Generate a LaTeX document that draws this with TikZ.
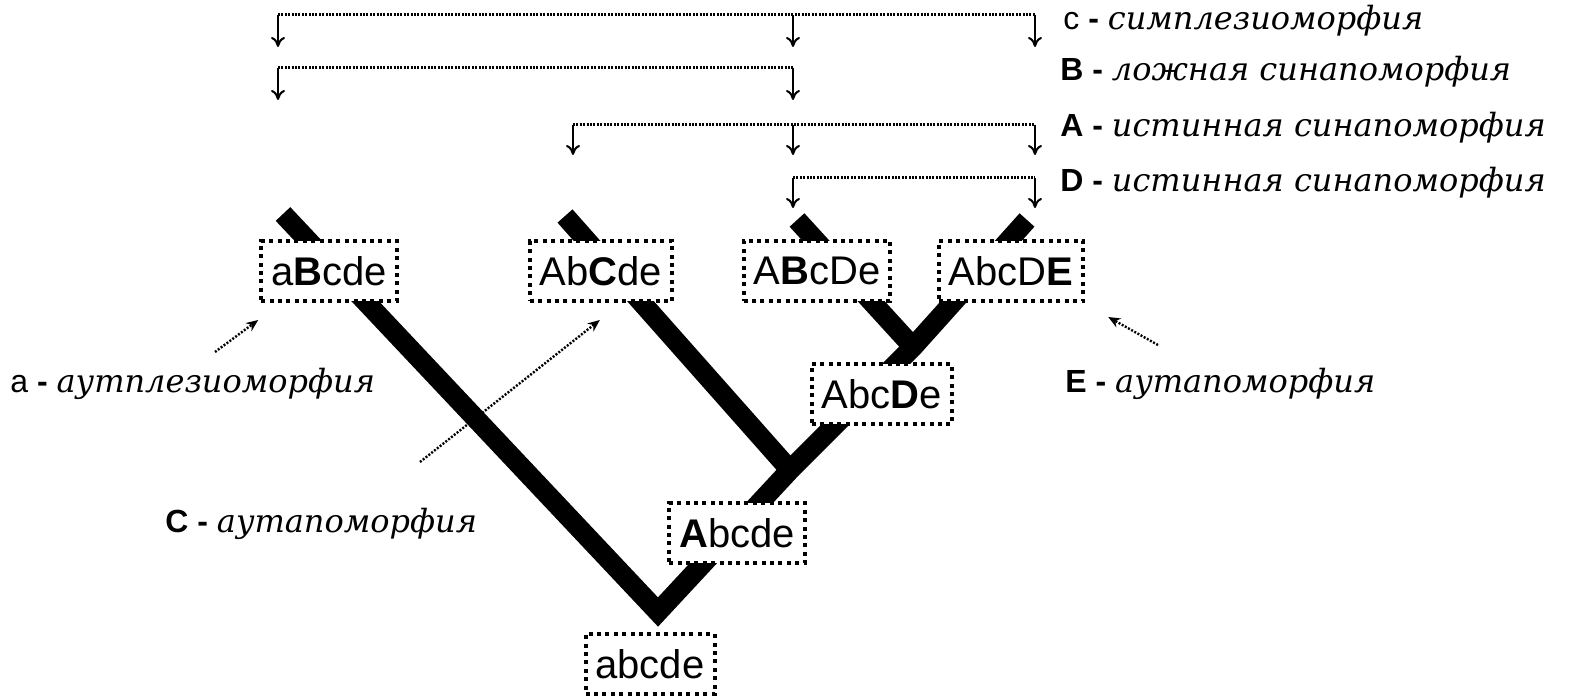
\documentclass[tikz,border=0pt]{standalone}
\usepackage{fontspec}
\setmainfont{Liberation Sans}
\newfontfamily\descfont{DejaVu Serif}
\usetikzlibrary{arrows.meta}

\tikzset{
  taxon/.style={draw=black, fill=white, line width=2pt, dash pattern=on 2pt off 2.2pt,
    inner xsep=5pt, inner ysep=0pt, minimum height=30pt, font=\fontsize{20}{24}\selectfont},
  branch/.style={line width=10pt, line cap=butt, line join=miter},
  bracket/.style={line width=1.5pt, dash pattern=on 1pt off 0.7pt},
  drop/.style={line width=1pt, -{To[length=5pt,width=7pt]}},
  pointer/.style={line width=1.2pt, dash pattern=on 1pt off 0.8pt, -{Stealth[open,length=6pt,width=5pt]}},
  legend/.style={anchor=base west, inner sep=0pt, font=\fontsize{16}{18}\selectfont},
}
\newcommand{\desc}[1]{{\descfont\itshape\fontsize{16}{18}\selectfont #1}}

\begin{document}
\begin{tikzpicture}[x=0.5pt, y=-0.5pt]
  \useasboundingbox (0,0) rectangle (1569,700);

  % tree
  \coordinate (root) at (658,612);
  \coordinate (j1) at (790,470);
  \coordinate (j2) at (913,347);
  \coordinate (t1) at (283,214);
  \coordinate (t2) at (565,216);
  \coordinate (t3) at (797,220);
  \coordinate (t4) at (1027,220);
  \draw[branch] (t1) -- (root) -- (j1) -- (j2) -- (t4);
  \draw[branch] (t2) -- (j1);
  \draw[branch] (t3) -- (j2);

  \node[taxon] (aBcde) at (329,271) {a\textbf{B}cde};
  \node[taxon] (AbCde) at (601,271) {Ab\textbf{C}de};
  \node[taxon] (ABcDe) at (817,271) {A\textbf{B}cDe};
  \node[taxon] (AbcDE) at (1011,271) {AbcD\textbf{E}};
  \node[taxon] (AbcDe) at (882,394) {Abc\textbf{D}e};
  \node[taxon] (Abcde) at (737,533) {\textbf{A}bcde};
  \node[taxon] (abcde) at (650,664) {abcde};

  % character brackets
  \coordinate (c1) at (278,15);
  \coordinate (c2) at (793,15);
  \coordinate (c3) at (1035,15);
  \draw[bracket] (c1) -- (c3);
  \draw[drop] (c1) -- ++(0,32);
  \draw[drop] (c2) -- ++(0,32);
  \draw[drop] (c3) -- ++(0,32);

  \coordinate (b1) at (278,68);
  \coordinate (b2) at (793,68);
  \draw[bracket] (b1) -- (b2);
  \draw[drop] (b1) -- ++(0,32);
  \draw[drop] (b2) -- ++(0,32);

  \coordinate (a1) at (573,125);
  \coordinate (a2) at (793,125);
  \coordinate (a3) at (1035,125);
  \draw[bracket] (a1) -- (a3);
  \draw[drop] (a1) -- ++(0,30);
  \draw[drop] (a2) -- ++(0,30);
  \draw[drop] (a3) -- ++(0,30);

  \coordinate (d1) at (793,178);
  \coordinate (d2) at (1035,178);
  \draw[bracket] (d1) -- (d2);
  \draw[drop] (d1) -- ++(0,30);
  \draw[drop] (d2) -- ++(0,30);

  \node[legend] (symp) at (1063,30) {c \textbf{-} \desc{симплезиоморфия}};
  \node[legend] (falsesyn) at (1060,81) {\textbf{B -} \desc{ложная синапоморфия}};
  \node[legend] (truesynA) at (1060,137) {\textbf{A -} \desc{истинная синапоморфия}};
  \node[legend] (truesynD) at (1060,192) {\textbf{D -} \desc{истинная синапоморфия}};

  % autapomorphies
  \node[legend] (autpl) at (10,392) {a \textbf{-} \desc{аутплезиоморфия}};
  \node[legend] (autC) at (165,532) {\textbf{C -} \desc{аутапоморфия}};
  \node[legend] (autE) at (1065,392) {\textbf{E -} \desc{аутапоморфия}};
  \coordinate (pa) at (215,352);
  \coordinate (pc) at (420,462);
  \coordinate (pe) at (1158,345);
  \draw[pointer] (pa) -- ([shift={(-0.5pt,-8.5pt)}]aBcde.south west);
  \draw[pointer] (pc) -- ([shift={(36pt,-8.5pt)}]AbCde.south west);
  \draw[pointer] (pe) -- ([shift={(11.5pt,-7pt)}]AbcDE.south east);
\end{tikzpicture}
\end{document}
